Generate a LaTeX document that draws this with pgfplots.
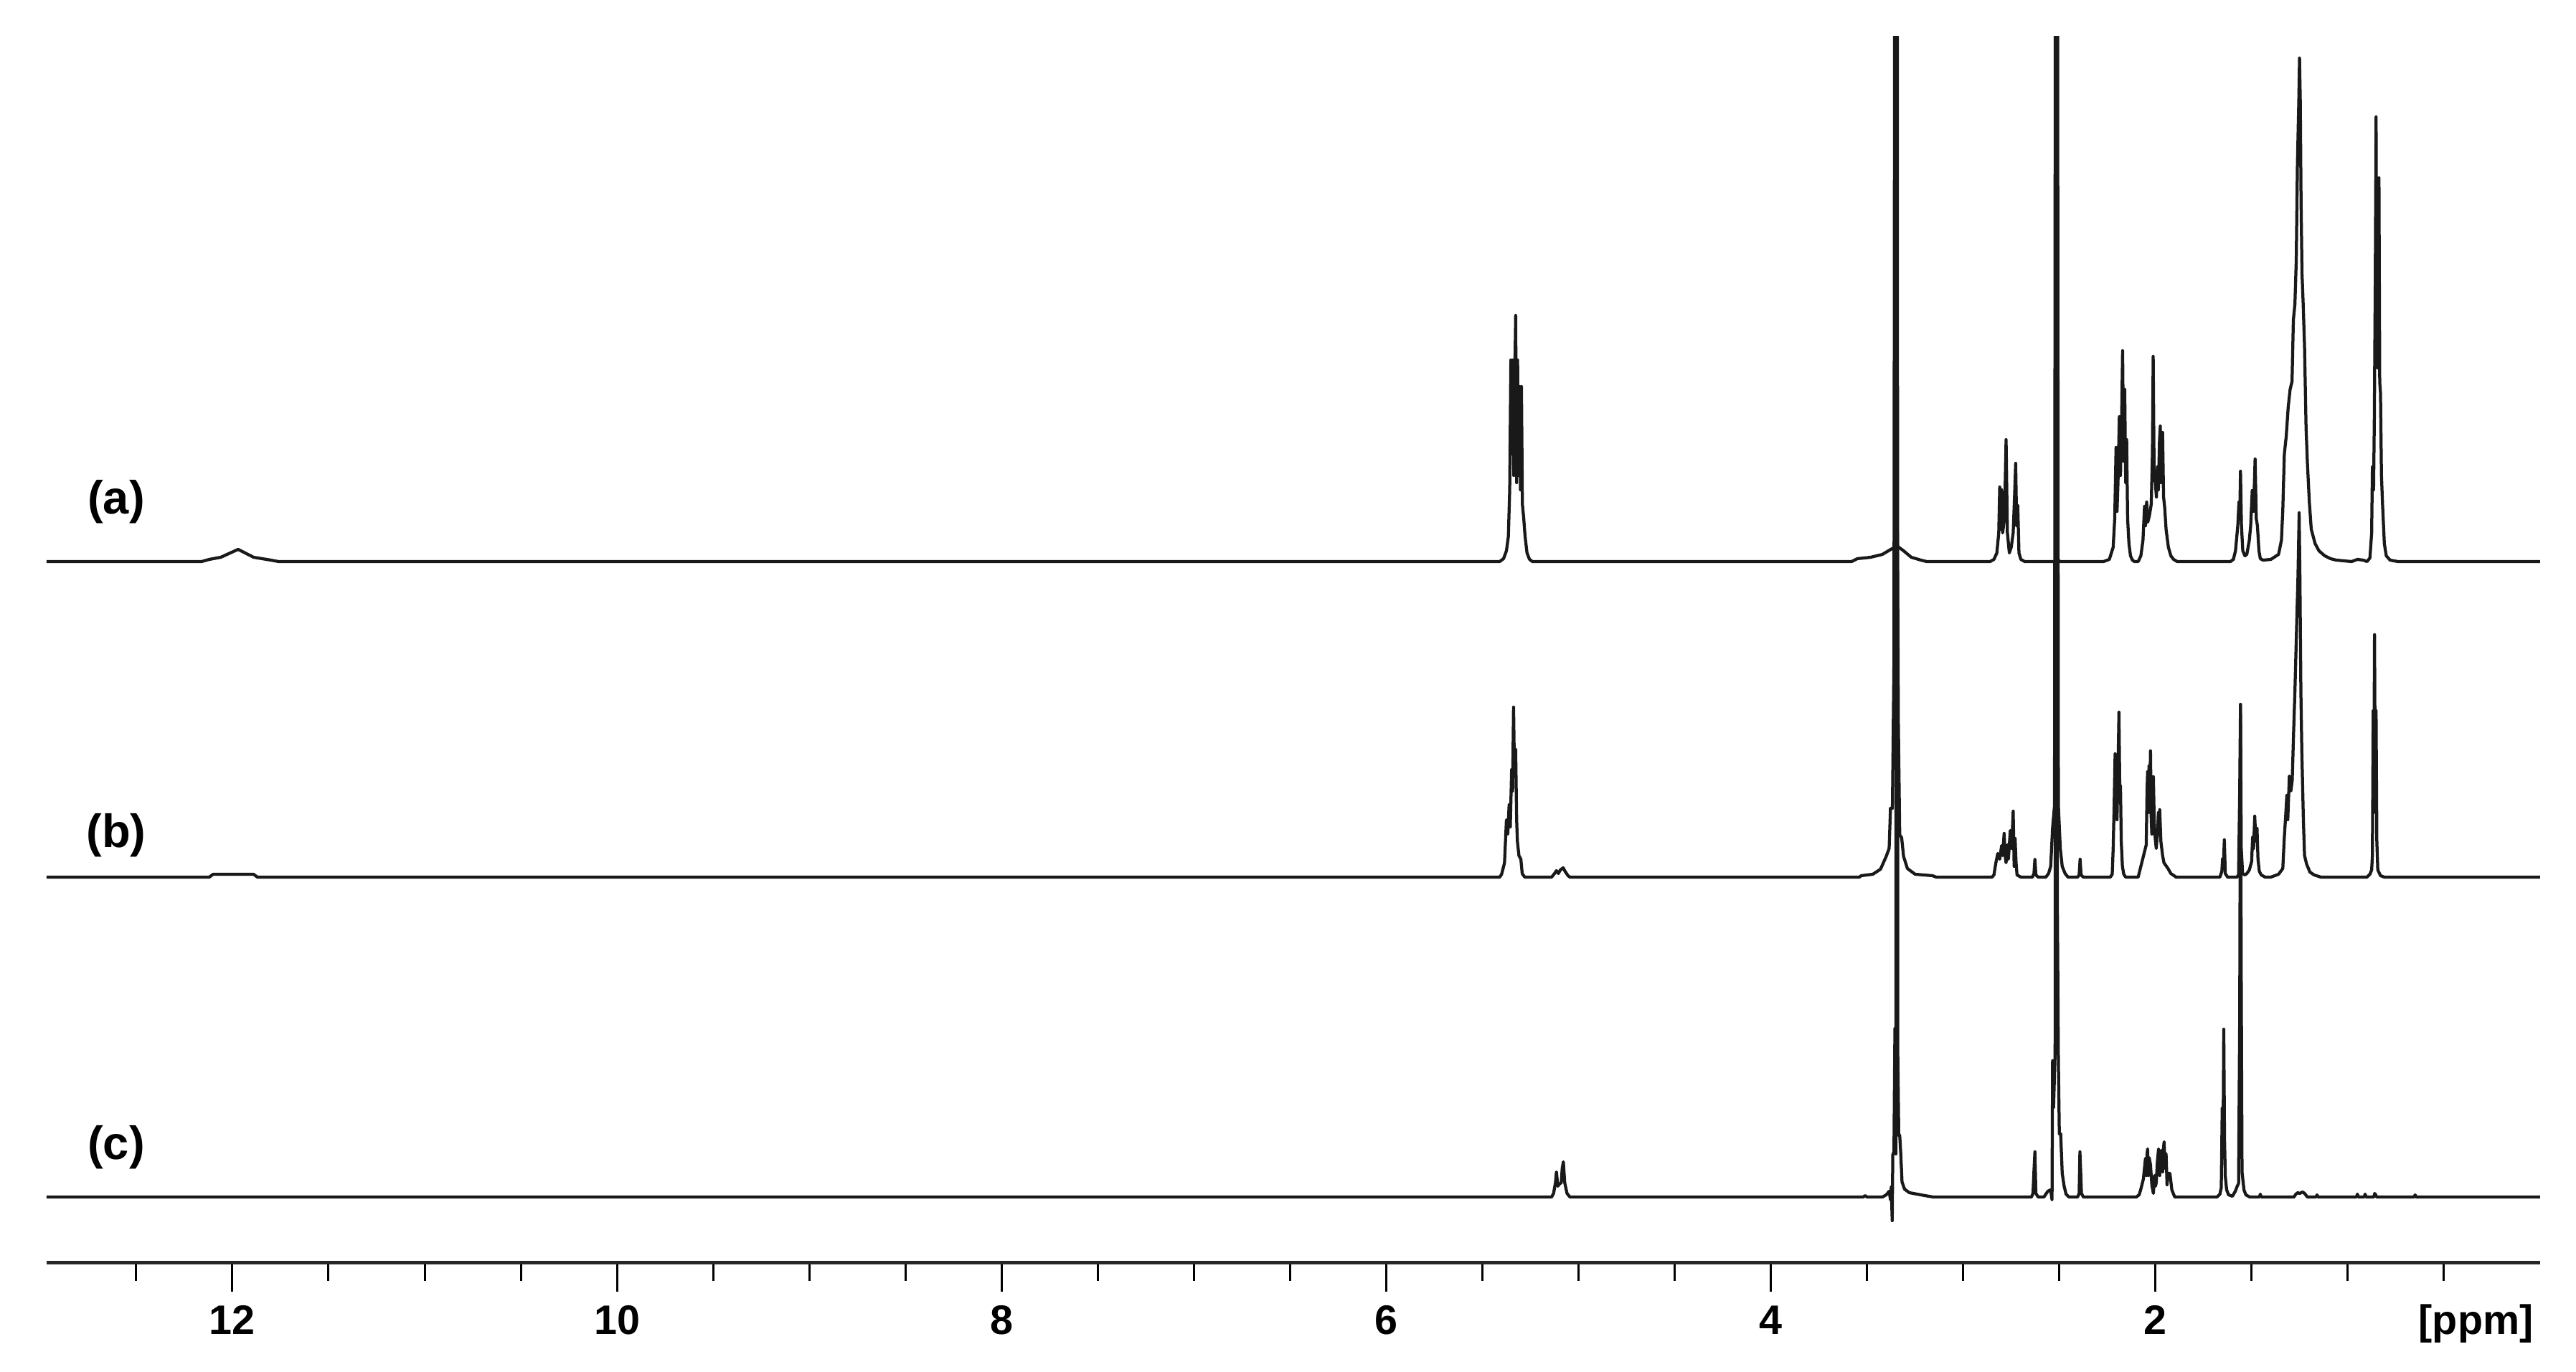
\documentclass[border=0pt]{standalone}
\usepackage{fontspec}
\setmainfont{Liberation Sans}
\usepackage{pgfplots}
\pgfplotsset{compat=1.18}

\pgfplotsset{
  spec/.style={
    scale only axis, width=695.2pt, height=342pt,
    at={(13pt,30.4pt)}, anchor=south west,
    xmin=0, xmax=12.966, x dir=reverse,
    clip=true, hide axis,
  },
  specline/.style={no markers, line width=0.85pt, black!90, line join=round},
}

\begin{document}
\begin{tikzpicture}
\path[use as bounding box] (0,0) rectangle (718.2pt,382.6pt);

% base axis: ppm scale and labels
\begin{axis}[
  scale only axis, width=695.2pt, height=342pt,
  at={(13pt,30.4pt)}, anchor=south west,
  xmin=0, xmax=12.966, x dir=reverse,
  ymin=0, ymax=1710,
  axis x line=bottom, axis y line=none,
  axis line style={-, line width=1pt, black!85},
  xtick={2,4,6,8,10,12},
  minor xtick={0.5,1,1.5,2.5,3,3.5,4.5,5,5.5,6.5,7,7.5,8.5,9,9.5,10.5,11,11.5,12.5},
  xtick align=outside,
  major tick length=8pt, minor tick length=5pt,
  every tick/.style={line width=0.6pt, black},
  /pgf/number format/assume math mode=true,
  xticklabel style={font=\fontsize{11.5}{13}\selectfont\bfseries, anchor=base, yshift=-12pt},
  xlabel={[ppm]},
  xlabel style={at={(axis description cs:0.9743,0)}, anchor=base, yshift=-20pt, font=\fontsize{11.5}{13}\selectfont\bfseries},
]
\node[font=\fontsize{13}{15}\selectfont\bfseries] at (axis cs:12.604,1061) {(a)};
\node[font=\fontsize{13}{15}\selectfont\bfseries] at (axis cs:12.604,596) {(b)};
\node[font=\fontsize{13}{15}\selectfont\bfseries] at (axis cs:12.604,161) {(c)};
\end{axis}

% spectrum (a)
\begin{axis}[spec, ymin=-978, ymax=732]
\addplot[specline] coordinates {
(12.966,0) (12.16,0) (12.12,3) (12.06,6) (11.97,17) (11.89,6) (11.80,2) (11.76,0)
(5.41,0) (5.39,4) (5.375,15) (5.365,35) (5.358,100) (5.352,281) (5.347,150) (5.342,281)
(5.337,120) (5.332,250) (5.327,343) (5.322,110) (5.317,281) (5.312,120) (5.307,244)
(5.302,100) (5.297,244) (5.292,80) (5.285,60) (5.278,35) (5.268,12) (5.255,3) (5.24,0)
(3.58,0) (3.55,4) (3.48,6) (3.42,10) (3.37,18) (3.34,21) (3.31,15) (3.27,6) (3.22,2) (3.19,0)
(2.86,0) (2.84,3) (2.825,12) (2.815,40) (2.81,104) (2.805,45) (2.80,100) (2.795,40)
(2.785,60) (2.777,170) (2.77,40) (2.76,12) (2.75,20) (2.74,40) (2.733,90) (2.727,137)
(2.722,50) (2.716,78) (2.71,12) (2.70,3) (2.68,0)
(2.52,0) (2.51,5) (2.50,0)
(2.27,0) (2.24,3) (2.22,20) (2.212,60) (2.205,159) (2.20,70) (2.195,110) (2.188,202)
(2.182,120) (2.176,200) (2.171,294) (2.166,140) (2.16,240) (2.155,110) (2.15,170)
(2.145,60) (2.138,25) (2.13,8) (2.12,2) (2.11,0)
(2.09,0) (2.076,8) (2.065,30) (2.057,77) (2.052,50) (2.046,83) (2.04,55) (2.031,65)
(2.022,80) (2.016,150) (2.012,286) (2.007,120) (2.001,110) (1.995,90) (1.99,132)
(1.985,100) (1.979,170) (1.975,189) (1.97,110) (1.963,180) (1.958,90) (1.952,75)
(1.945,45) (1.933,20) (1.92,8) (1.906,3) (1.887,0)
(1.61,0) (1.595,3) (1.584,15) (1.572,50) (1.566,83) (1.562,60) (1.558,126) (1.553,50)
(1.546,15) (1.535,8) (1.525,10) (1.512,30) (1.505,50) (1.497,99) (1.49,70) (1.482,143)
(1.476,60) (1.47,50) (1.462,15) (1.455,4) (1.44,2)
(1.40,3) (1.36,10) (1.345,30) (1.338,72) (1.33,150) (1.32,175) (1.31,215) (1.30,240)
(1.29,251) (1.283,337) (1.275,359) (1.268,420) (1.262,554) (1.255,640) (1.251,702)
(1.247,641) (1.243,500) (1.238,401) (1.232,359) (1.225,300) (1.217,186) (1.21,137)
(1.20,83) (1.19,45) (1.17,25) (1.15,15) (1.12,8) (1.09,4) (1.06,2) (0.98,0) (0.95,3)
(0.92,2) (0.90,0)
(0.885,5) (0.876,40) (0.872,132) (0.866,100) (0.862,200) (0.857,400) (0.853,620)
(0.849,300) (0.845,270) (0.841,400) (0.838,535) (0.834,250) (0.83,235) (0.825,120)
(0.819,78) (0.81,25) (0.80,8) (0.78,2) (0.74,0) (0,0)
};
\end{axis}

% spectrum (b)
\begin{axis}[spec, ymin=-538, ymax=1172]
\addplot[specline] coordinates {
(12.966,0) (12.12,0) (12.10,4) (11.89,4) (11.87,0)
(5.41,0) (5.40,4) (5.385,20) (5.375,80) (5.368,60) (5.361,101) (5.355,70) (5.348,150)
(5.343,120) (5.338,237) (5.333,140) (5.327,178) (5.322,80) (5.318,50) (5.31,30)
(5.30,25) (5.293,5) (5.28,0)
(5.14,0) (5.125,5) (5.115,9) (5.105,5) (5.095,10) (5.08,13) (5.07,8) (5.055,2) (5.045,0)
(3.54,0) (3.53,2) (3.47,4) (3.43,11) (3.40,29) (3.385,40) (3.378,96) (3.368,96)
(3.36,300) (3.35,3000) (3.342,500) (3.337,213) (3.33,59) (3.32,55) (3.31,29) (3.29,12)
(3.25,4) (3.16,2) (3.14,0)
(2.85,0) (2.84,3) (2.83,20) (2.82,33) (2.81,25) (2.80,44) (2.795,30) (2.787,61)
(2.782,30) (2.777,20) (2.77,45) (2.765,25) (2.755,65) (2.748,40) (2.74,92) (2.735,15)
(2.73,54) (2.725,20) (2.72,3) (2.70,0)
(2.64,0) (2.632,5) (2.627,25) (2.622,3) (2.61,0)
(2.57,0) (2.556,5) (2.545,15) (2.535,69) (2.525,100) (2.515,3000) (2.505,100)
(2.495,40) (2.485,15) (2.47,5) (2.455,0)
(2.405,0) (2.397,3) (2.392,25) (2.387,3) (2.375,0)
(2.235,0) (2.225,4) (2.22,40) (2.215,100) (2.21,172) (2.205,120) (2.20,80) (2.195,150)
(2.19,230) (2.186,130) (2.182,126) (2.178,50) (2.172,15) (2.165,4) (2.155,0)
(2.09,0) (2.078,13) (2.063,29) (2.048,45) (2.044,120) (2.041,147) (2.037,90)
(2.034,155) (2.03,100) (2.026,176) (2.022,80) (2.019,60) (2.015,100) (2.011,140)
(2.006,70) (2.0,50) (1.996,40) (1.99,60) (1.985,90) (1.982,60) (1.978,94) (1.972,50)
(1.963,30) (1.956,20) (1.935,12) (1.92,5) (1.893,0)
(1.665,0) (1.655,8) (1.651,26) (1.647,15) (1.642,52) (1.637,5) (1.625,0)
(1.575,0) (1.568,4) (1.562,121) (1.558,241) (1.554,40) (1.547,5) (1.535,3)
(1.525,5) (1.512,10) (1.50,22) (1.495,56) (1.49,40) (1.484,85) (1.478,50) (1.472,68)
(1.467,25) (1.46,8) (1.45,3) (1.43,0)
(1.40,0) (1.36,4) (1.338,12) (1.33,56) (1.322,90) (1.317,114) (1.312,80) (1.304,141)
(1.296,120) (1.289,135) (1.282,200) (1.275,259) (1.266,350) (1.259,420) (1.253,508)
(1.249,420) (1.244,259) (1.239,175) (1.231,80) (1.225,30) (1.214,18) (1.197,7)
(1.175,3) (1.14,0)
(0.90,0) (0.885,4) (0.876,10) (0.872,30) (0.868,232) (0.865,90) (0.861,338)
(0.857,110) (0.853,232) (0.849,50) (0.844,10) (0.83,2) (0.81,0) (0,0)
};
\end{axis}

% spectrum (c)
\begin{axis}[spec, ymin=-92, ymax=1618]
\addplot[specline] coordinates {
(12.966,0) (5.14,0) (5.13,5) (5.12,20) (5.115,35) (5.108,15) (5.10,18) (5.09,20)
(5.085,40) (5.079,49) (5.072,20) (5.06,5) (5.045,0)
(3.52,0) (3.51,2) (3.50,0) (3.42,0) (3.40,3) (3.385,8) (3.378,-4) (3.374,14)
(3.369,-33) (3.366,59) (3.36,63) (3.355,235) (3.35,60) (3.345,3000) (3.34,200)
(3.335,86) (3.33,86) (3.325,63) (3.318,21) (3.305,11) (3.28,6) (3.24,4) (3.20,2)
(3.156,0)
(2.645,0) (2.637,5) (2.632,36) (2.627,63) (2.622,5) (2.61,0)
(2.58,0) (2.56,8) (2.545,10) (2.538,-4) (2.535,190) (2.53,125) (2.522,200)
(2.515,3000) (2.51,400) (2.505,190) (2.50,88) (2.493,88) (2.485,33) (2.475,15)
(2.465,4) (2.45,0)
(2.405,0) (2.397,5) (2.393,63) (2.389,36) (2.385,5) (2.375,0)
(2.10,0) (2.085,3) (2.077,10) (2.063,25) (2.052,54) (2.048,30) (2.044,60) (2.041,67)
(2.037,30) (2.033,55) (2.026,45) (2.019,17) (2.011,5) (2.005,30) (2.0,15) (1.996,20)
(1.99,50) (1.984,67) (1.978,30) (1.974,55) (1.969,65) (1.963,35) (1.958,70)
(1.955,77) (1.95,40) (1.945,60) (1.94,17) (1.935,33) (1.925,33) (1.915,10) (1.90,0)
(1.68,0) (1.665,4) (1.658,13) (1.653,124) (1.649,60) (1.645,234) (1.641,80)
(1.637,29) (1.63,10) (1.62,3) (1.60,1) (1.585,8) (1.575,15) (1.568,19) (1.562,250)
(1.558,686) (1.554,300) (1.55,35) (1.54,10) (1.53,3) (1.51,0)
(1.46,0) (1.455,4) (1.45,0) (1.28,0) (1.27,4) (1.26,6) (1.25,5) (1.235,7) (1.225,5)
(1.21,0) (1.165,0) (1.16,3) (1.155,0) (0.955,0) (0.95,4) (0.945,0) (0.915,0)
(0.91,4) (0.905,0) (0.865,0) (0.86,5) (0.855,3) (0.85,0) (0.655,0) (0.65,3)
(0.645,0) (0,0)
};
\end{axis}
\end{tikzpicture}
\end{document}
